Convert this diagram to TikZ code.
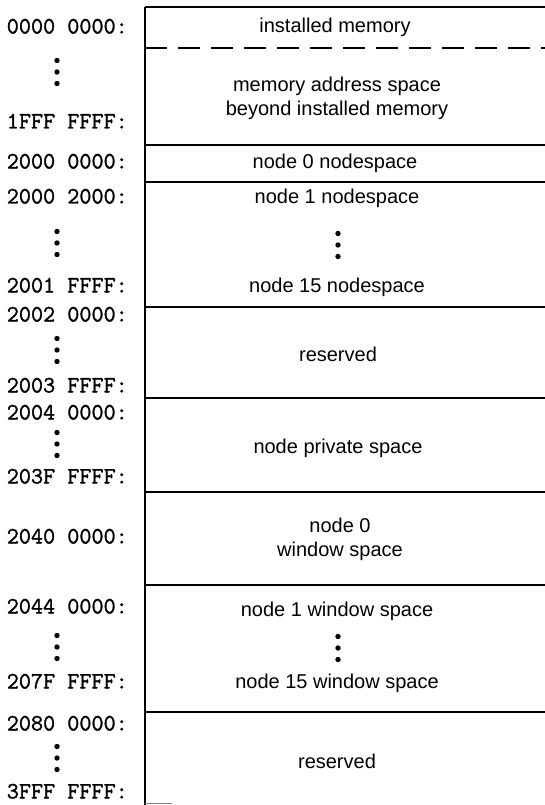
\documentclass[tikz,border=0pt]{standalone}
\usepackage{fontspec}
\setmainfont{Liberation Sans}
\newfontfamily\addrfamily[FakeBold=1.3]{Latin Modern Mono}
\begin{document}
\begin{tikzpicture}[x=1pt,y=-1pt,
  addr/.style={anchor=base east,inner sep=0pt,font=\addrfamily\fontsize{23.5}{26}\selectfont},
  lbl/.style={anchor=base,inner sep=0pt,align=center,font=\fontsize{20}{24}\selectfont},
  rule/.style={line width=1.9pt},
  dashrule/.style={line width=1.9pt,dash pattern=on 22pt off 11pt},
  threedots/.pic={\fill (0,-11.5) circle (2.7); \fill (0,0) circle (2.7); \fill (0,11.5) circle (2.7);}]
\useasboundingbox (0,0) rectangle (545,805);
% frame
\draw[rule] (145,7) -- (545,7);
\draw[rule] (145,7) -- (145,805);
\draw[dashrule] (145,48) -- (545,48);
\foreach \yy in {145,182,307,398,492,585,712} \draw[rule] (145,\yy) -- (545,\yy);
\draw[line width=1pt,black!50] (145,803.5) -- (172,803.5);
% box labels
\node[lbl] (t1) at (335,33) {installed memory};
\node[lbl] (t2) at (337,116) {memory address space\\beyond installed memory};
\node[lbl] (t3) at (335,169) {node 0 nodespace};
\node[lbl] (t4) at (337,203) {node 1 nodespace};
\node[lbl] (t5) at (337,292) {node 15 nodespace};
\node[lbl] (t6) at (338,361) {reserved};
\node[lbl] (t7) at (338,453) {node private space};
\node[lbl] (t8) at (340,556) {node 0\\window space};
\node[lbl] (t9) at (337,616) {node 1 window space};
\node[lbl] (t10) at (337,688) {node 15 window space};
\node[lbl] (t11) at (337,768) {reserved};
\pic at (338,245) {threedots};
\pic at (338,648) {threedots};
% addresses
\node[addr] (a1) at (128,33.5) {0000 0000:};
\node[addr] (a2) at (128,128.5) {1FFF FFFF:};
\node[addr] (a3) at (128,168.5) {2000 0000:};
\node[addr] (a4) at (128,203.5) {2000 2000:};
\node[addr] (a5) at (128,292.5) {2001 FFFF:};
\node[addr] (a6) at (128,321.5) {2002 0000:};
\node[addr] (a7) at (128,392.5) {2003 FFFF:};
\node[addr] (a8) at (128,419.5) {2004 0000:};
\node[addr] (a9) at (128,483.5) {203F FFFF:};
\node[addr] (a10) at (128,543.5) {2040 0000:};
\node[addr] (a11) at (128,613.5) {2044 0000:};
\node[addr] (a12) at (128,688.5) {207F FFFF:};
\node[addr] (a13) at (128,730.5) {2080 0000:};
\node[addr] (a14) at (128,798.5) {3FFF FFFF:};
\foreach \yy in {72,243,350,444,647,758} \pic at (57,\yy) {threedots};
\end{tikzpicture}
\end{document}
